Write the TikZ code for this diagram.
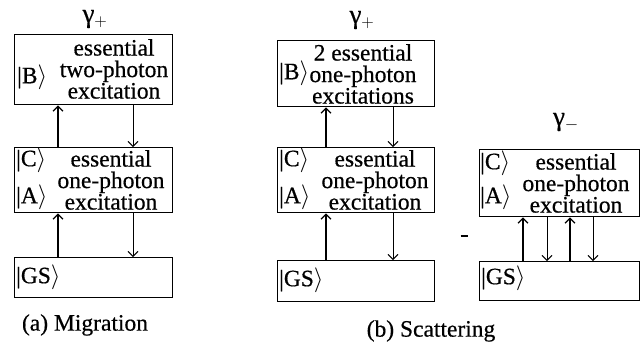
\documentclass[tikz,border=0pt]{standalone}
\usepackage{fontspec}
\setmainfont{Liberation Serif}[FakeBold=0.5]
\usetikzlibrary{arrows.meta}
\newcommand{\kt}[1]{|#1$\rangle$}
\begin{document}
\begin{tikzpicture}[x=1pt,y=-1pt,
  box/.style={draw, line width=1.3pt, inner sep=0pt, anchor=north west},
  txt/.style={inner sep=0pt, align=center, font=\fontsize{23.5}{21.5}\selectfont},
  lbl/.style={inner sep=0pt, font=\fontsize{23.5}{24}\selectfont},
  gam/.style={inner sep=0pt, font=\fontsize{27}{27}\selectfont},
  up/.style={line width=1.3pt, -{Straight Barb[length=5pt,width=10pt]}},
  dn/.style={line width=0.9pt, -{Straight Barb[length=5pt,width=10pt]}}]
\useasboundingbox (0,0) rectangle (641,346);
% left column
\node[box, minimum width=158pt, minimum height=70pt] (B1) at (14,34) {};
\node[box, minimum width=158pt, minimum height=65pt] (CA1) at (14,147) {};
\node[box, minimum width=158pt, minimum height=40pt] (GS1) at (14,257) {};
\node[gam] (g1) at (95,19) {γ$_+$};
\node[lbl, anchor=west] (kB1) at (17,77) {\kt{B}};
\node[txt] (tB1) at (114,69) {essential\\two-photon\\excitation};
\node[lbl, anchor=west] (kC1) at (16,160) {\kt{C}};
\node[lbl, anchor=west] (kA1) at (16,197) {\kt{A}};
\node[txt] (tCA1) at (111,180) {essential\\one-photon\\excitation};
\node[lbl, anchor=west] (kGS1) at (16,277) {\kt{GS}};
\node[lbl] (cap1) at (85,325) {(a) Migration};
\draw[up] ([xshift=44pt]GS1.north west) -- ([xshift=44pt]CA1.south west);
\draw[dn] ([xshift=119pt]CA1.south west) -- ([xshift=119pt]GS1.north west);
\draw[up] ([xshift=44pt]CA1.north west) -- ([xshift=44pt]B1.south west);
\draw[dn] ([xshift=119pt]B1.south west) -- ([xshift=119pt]CA1.north west);
% middle column
\node[box, minimum width=157pt, minimum height=66pt] (B2) at (277,40) {};
\node[box, minimum width=157pt, minimum height=65pt] (CA2) at (277,147) {};
\node[box, minimum width=157pt, minimum height=41pt] (GS2) at (277,260) {};
\node[gam] (g2) at (362,20) {γ$_+$};
\node[lbl, anchor=west] (kB2) at (279,73) {\kt{B}};
\node[txt] (tB2) at (363,74) {2 essential\\one-photon\\excitations};
\node[lbl, anchor=west] (kC2) at (279,160) {\kt{C}};
\node[lbl, anchor=west] (kA2) at (279,197) {\kt{A}};
\node[txt] (tCA2) at (375,180) {essential\\one-photon\\excitation};
\node[lbl, anchor=west] (kGS2) at (279,280) {\kt{GS}};
\node[lbl] (cap2) at (431,331) {(b) Scattering};
\draw[up] ([xshift=49pt]GS2.north west) -- ([xshift=49pt]CA2.south west);
\draw[dn] ([xshift=116pt]CA2.south west) -- ([xshift=116pt]GS2.north west);
\draw[up] ([xshift=49pt]CA2.north west) -- ([xshift=49pt]B2.south west);
\draw[dn] ([xshift=116pt]B2.south west) -- ([xshift=116pt]CA2.north west);
% right column
\node[box, minimum width=160pt, minimum height=67pt] (CA3) at (479,149) {};
\node[box, minimum width=160pt, minimum height=39pt] (GS3) at (479,261) {};
\node[gam] (g3) at (566,122) {γ$_-$};
\node[lbl, anchor=west] (kC3) at (480,163) {\kt{C}};
\node[lbl, anchor=west] (kA3) at (480,197) {\kt{A}};
\node[txt] (tCA3) at (576,183) {essential\\one-photon\\excitation};
\node[lbl, anchor=west] (kGS3) at (481,278) {\kt{GS}};
\node[inner sep=0pt] (minus) at (464,236) {\rule{7pt}{2.4pt}};
\draw[up] ([xshift=44pt]GS3.north west) -- ([xshift=44pt]CA3.south west);
\draw[dn] ([xshift=68pt]CA3.south west) -- ([xshift=68pt]GS3.north west);
\draw[up] ([xshift=91pt]GS3.north west) -- ([xshift=91pt]CA3.south west);
\draw[dn] ([xshift=114pt]CA3.south west) -- ([xshift=114pt]GS3.north west);
\end{tikzpicture}
\end{document}
